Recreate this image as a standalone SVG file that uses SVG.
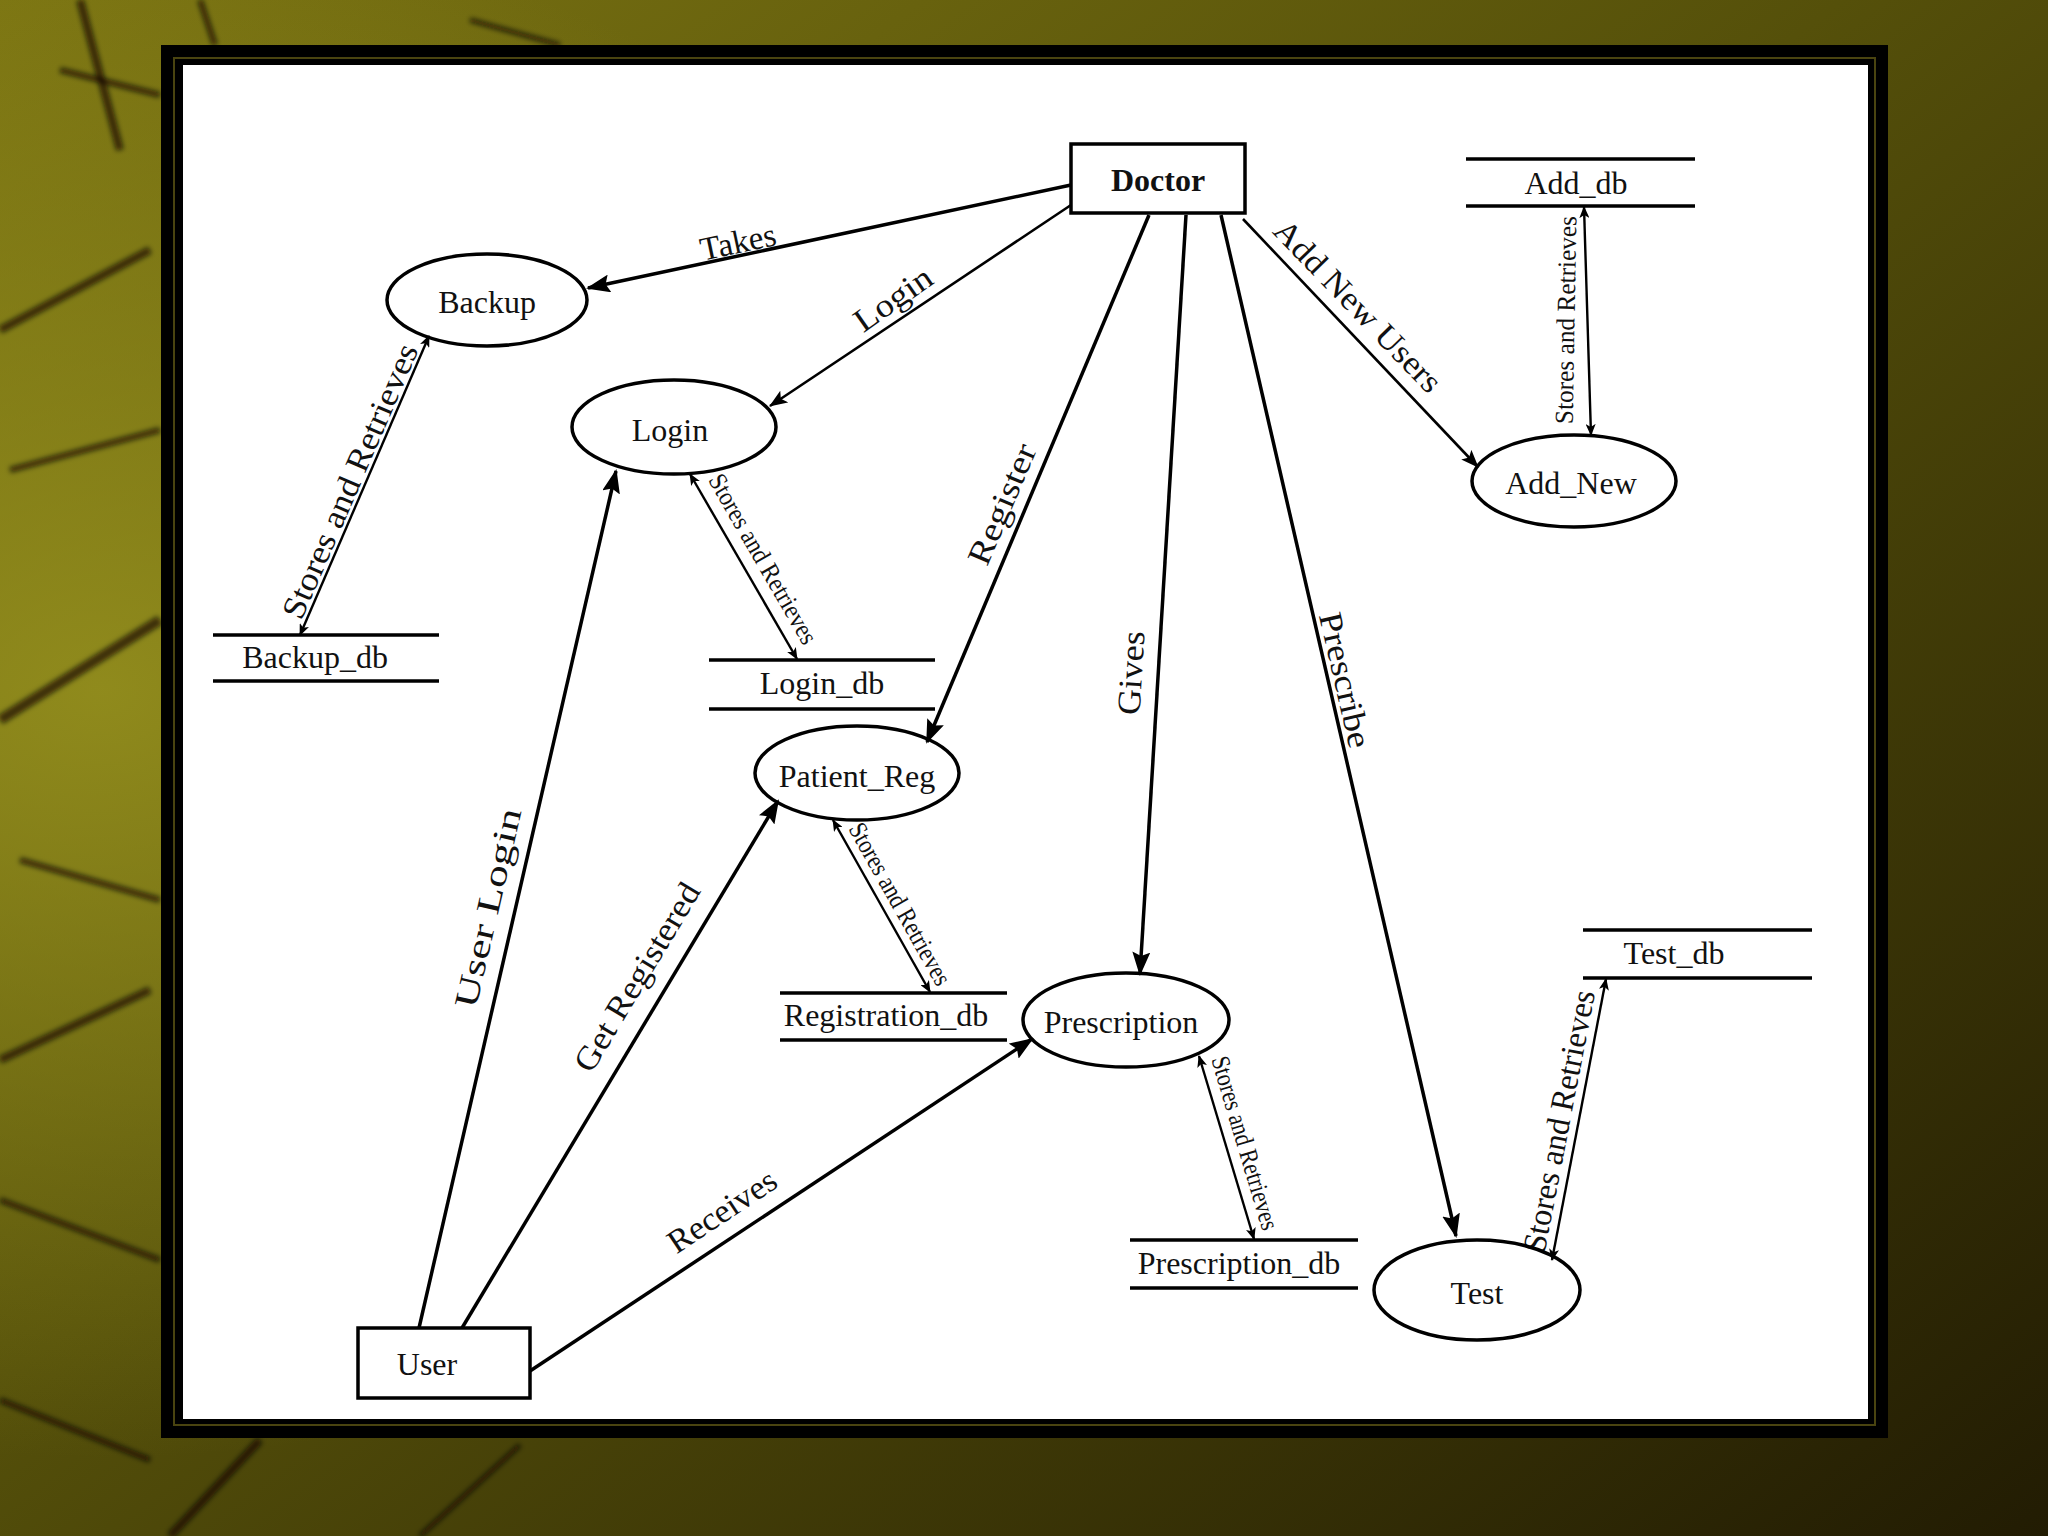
<svg xmlns="http://www.w3.org/2000/svg" width="2048" height="1536" viewBox="0 0 2048 1536">
<defs>
<linearGradient id="bg" x1="0" y1="0" x2="1" y2="1">
<stop offset="0" stop-color="#7b7412"/>
<stop offset="0.45" stop-color="#55500a"/>
<stop offset="1" stop-color="#221c03"/>
</linearGradient>
<radialGradient id="glow" cx="0.05" cy="0.45" r="0.5">
<stop offset="0" stop-color="#9a9520" stop-opacity="0.8"/>
<stop offset="1" stop-color="#9a9520" stop-opacity="0"/>
</radialGradient>
<filter id="soft" x="-10%" y="-10%" width="120%" height="120%">
<feGaussianBlur stdDeviation="2.5"/>
</filter>
<marker id="ah" markerUnits="userSpaceOnUse" markerWidth="24" markerHeight="18" refX="22" refY="9" orient="auto">
<path d="M0,0 L24,9 L0,18 L4,9 z" fill="#000"/>
</marker>
<marker id="ahm" markerUnits="userSpaceOnUse" markerWidth="18" markerHeight="14" refX="17" refY="7" orient="auto">
<path d="M0,0 L18,7 L0,14 L4,7 z" fill="#000"/>
</marker>
<marker id="as" markerUnits="userSpaceOnUse" markerWidth="12" markerHeight="10" refX="11" refY="5" orient="auto-start-reverse">
<path d="M0,0 L12,5 L0,10 L3,5 z" fill="#000"/>
</marker>
<style>
.t{font-family:"Liberation Serif","Times New Roman",serif;fill:#111;text-anchor:middle;dominant-baseline:central}
.n{font-size:32px}
.b{font-weight:bold}
.l{font-size:33px}
.s{font-size:26px}
.sh{fill:none;stroke:#000;stroke-width:3.5}
.db{stroke:#000;stroke-width:3.5}
.c{fill:none;stroke:#000;stroke-width:3.5}
.cm{fill:none;stroke:#000;stroke-width:2.6}
.cs{fill:none;stroke:#000;stroke-width:2.4}
.st{stroke:#0a0800;stroke-opacity:0.65;fill:none}
</style>
</defs>
<rect width="2048" height="1536" fill="url(#bg)"/>
<rect width="2048" height="1536" fill="url(#glow)"/>
<g id="streaks" filter="url(#soft)">
<path class="st" stroke-width="8" d="M0,330 L150,250"/>
<path class="st" stroke-width="6" d="M10,470 L160,430"/>
<path class="st" stroke-width="10" d="M0,720 L160,620"/>
<path class="st" stroke-width="6" d="M20,860 L160,900"/>
<path class="st" stroke-width="8" d="M0,1060 L150,990"/>
<path class="st" stroke-width="6" d="M0,1200 L160,1260"/>
<path class="st" stroke-width="8" d="M80,0 L120,150"/>
<path class="st" stroke-width="6" d="M200,0 L215,45"/>
<path class="st" stroke-width="6" d="M60,70 L160,95"/>
<path class="st" stroke-width="5" d="M470,20 L560,45"/>
<path class="st" stroke-width="6" d="M0,1400 L150,1460"/>
<path class="st" stroke-width="8" d="M170,1536 L260,1440"/>
<path class="st" stroke-width="5" d="M420,1536 L520,1445"/>
</g>
<g id="frame">
<rect x="161" y="45" width="1727" height="1393" fill="#000"/>
<rect x="174" y="58" width="1701" height="1367" fill="none" stroke="#4a4410" stroke-width="2"/>
<rect x="183" y="65" width="1685" height="1354" fill="#fff"/>
</g>
<g id="connectors">
<line class="c" x1="1071" y1="185" x2="588" y2="288" marker-end="url(#ah)"/>
<line class="cm" x1="1071" y1="205" x2="770" y2="406" marker-end="url(#ahm)"/>
<line class="c" x1="1149" y1="215" x2="927" y2="742" marker-end="url(#ah)"/>
<line class="c" x1="1186" y1="215" x2="1140" y2="974" marker-end="url(#ah)"/>
<line class="c" x1="1221" y1="215" x2="1456" y2="1236" marker-end="url(#ah)"/>
<line class="cm" x1="1243" y1="219" x2="1478" y2="467" marker-end="url(#ahm)"/>
<line class="c" x1="419" y1="1328" x2="616" y2="471" marker-end="url(#ah)"/>
<line class="c" x1="462" y1="1328" x2="778" y2="801" marker-end="url(#ah)"/>
<line class="c" x1="530" y1="1371" x2="1032" y2="1039" marker-end="url(#ah)"/>
<line class="cs" x1="429" y1="336" x2="300" y2="635" marker-start="url(#as)" marker-end="url(#as)"/>
<line class="cs" x1="690" y1="474" x2="797" y2="659" marker-start="url(#as)" marker-end="url(#as)"/>
<line class="cs" x1="1584" y1="207" x2="1591" y2="435" marker-start="url(#as)" marker-end="url(#as)"/>
<line class="cs" x1="833" y1="820" x2="930" y2="992" marker-start="url(#as)" marker-end="url(#as)"/>
<line class="cs" x1="1199" y1="1056" x2="1254" y2="1239" marker-start="url(#as)" marker-end="url(#as)"/>
<line class="cs" x1="1552" y1="1260" x2="1606" y2="979" marker-start="url(#as)" marker-end="url(#as)"/>
<g id="labels">
<text class="t l" x="738" y="242" transform="rotate(-12 738 242)">Takes</text>
<text class="t l" x="893" y="299" transform="rotate(-35 893 299)" textLength="88" lengthAdjust="spacingAndGlyphs">Login</text>
<text class="t l" x="1002" y="504" transform="rotate(-67 1002 504)" textLength="128" lengthAdjust="spacingAndGlyphs">Register</text>
<text class="t l" x="1131" y="673" transform="rotate(-86.5 1131 673)" textLength="84" lengthAdjust="spacingAndGlyphs">Gives</text>
<text class="t l" x="1345" y="680" transform="rotate(77 1345 680)" textLength="138" lengthAdjust="spacingAndGlyphs">Prescribe</text>
<text class="t l" x="1358" y="306" transform="rotate(46 1358 306)" textLength="226" lengthAdjust="spacingAndGlyphs">Add New Users</text>
<text class="t l" x="488" y="908" transform="rotate(-77 488 908)" textLength="204" lengthAdjust="spacingAndGlyphs">User Login</text>
<text class="t l" x="637" y="977" transform="rotate(-59 637 977)" textLength="214" lengthAdjust="spacingAndGlyphs">Get Registered</text>
<text class="t l" x="722" y="1211" transform="rotate(-33.6 722 1211)" textLength="124" lengthAdjust="spacingAndGlyphs">Receives</text>
<text class="t l" x="350" y="481" transform="rotate(-66.6 350 481)" textLength="296" lengthAdjust="spacingAndGlyphs">Stores and Retrieves</text>
<text class="t s" x="763" y="559" transform="rotate(60 763 559)" textLength="192" lengthAdjust="spacingAndGlyphs">Stores and Retrieves</text>
<text class="t s" x="1566" y="320" transform="rotate(-89 1566 320)" textLength="208" lengthAdjust="spacingAndGlyphs">Stores and Retrieves</text>
<text class="t s" x="900" y="904" transform="rotate(60.7 900 904)" textLength="182" lengthAdjust="spacingAndGlyphs">Stores and Retrieves</text>
<text class="t s" x="1245" y="1143" transform="rotate(73.4 1245 1143)" textLength="180" lengthAdjust="spacingAndGlyphs">Stores and Retrieves</text>
<text class="t l" x="1559" y="1121" transform="rotate(-79 1559 1121)" textLength="266" lengthAdjust="spacingAndGlyphs">Stores and Retrieves</text>
</g>
</g>
<g id="doctor">
<rect class="sh" x="1071" y="144" width="174" height="69" fill="#fff"/>
<text class="t n b" x="1158" y="180">Doctor</text>
</g>
<g id="user">
<rect class="sh" x="358" y="1328" width="172" height="70" fill="#fff"/>
<text class="t n" x="427" y="1364">User</text>
</g>
<g id="backup">
<ellipse class="sh" cx="487" cy="300" rx="100" ry="46"/>
<text class="t n" x="487" y="302">Backup</text>
</g>
<g id="login">
<ellipse class="sh" cx="674" cy="427" rx="102" ry="47"/>
<text class="t n" x="670" y="430">Login</text>
</g>
<g id="add_new">
<ellipse class="sh" cx="1574" cy="481" rx="102" ry="46"/>
<text class="t n" x="1571" y="483">Add_New</text>
</g>
<g id="patient_reg">
<ellipse class="sh" cx="857" cy="773" rx="102" ry="47"/>
<text class="t n" x="857" y="776">Patient_Reg</text>
</g>
<g id="prescription">
<ellipse class="sh" cx="1126" cy="1020" rx="103" ry="47"/>
<text class="t n" x="1121" y="1022">Prescription</text>
</g>
<g id="test">
<ellipse class="sh" cx="1477" cy="1290" rx="103" ry="50"/>
<text class="t n" x="1477" y="1293">Test</text>
</g>
<g id="add_db">
<line class="db" x1="1466" y1="159" x2="1695" y2="159"/>
<line class="db" x1="1466" y1="206" x2="1695" y2="206"/>
<text class="t n" x="1576" y="183">Add_db</text>
</g>
<g id="backup_db">
<line class="db" x1="213" y1="635" x2="439" y2="635"/>
<line class="db" x1="213" y1="681" x2="439" y2="681"/>
<text class="t n" x="315" y="657">Backup_db</text>
</g>
<g id="login_db">
<line class="db" x1="709" y1="660" x2="935" y2="660"/>
<line class="db" x1="709" y1="709" x2="935" y2="709"/>
<text class="t n" x="822" y="683">Login_db</text>
</g>
<g id="registration_db">
<line class="db" x1="780" y1="993" x2="1007" y2="993"/>
<line class="db" x1="780" y1="1040" x2="1007" y2="1040"/>
<text class="t n" x="886" y="1015">Registration_db</text>
</g>
<g id="test_db">
<line class="db" x1="1583" y1="930" x2="1812" y2="930"/>
<line class="db" x1="1583" y1="978" x2="1812" y2="978"/>
<text class="t n" x="1674" y="953">Test_db</text>
</g>
<g id="prescription_db">
<line class="db" x1="1130" y1="1240" x2="1358" y2="1240"/>
<line class="db" x1="1130" y1="1288" x2="1358" y2="1288"/>
<text class="t n" x="1239" y="1263">Prescription_db</text>
</g>
</svg>
